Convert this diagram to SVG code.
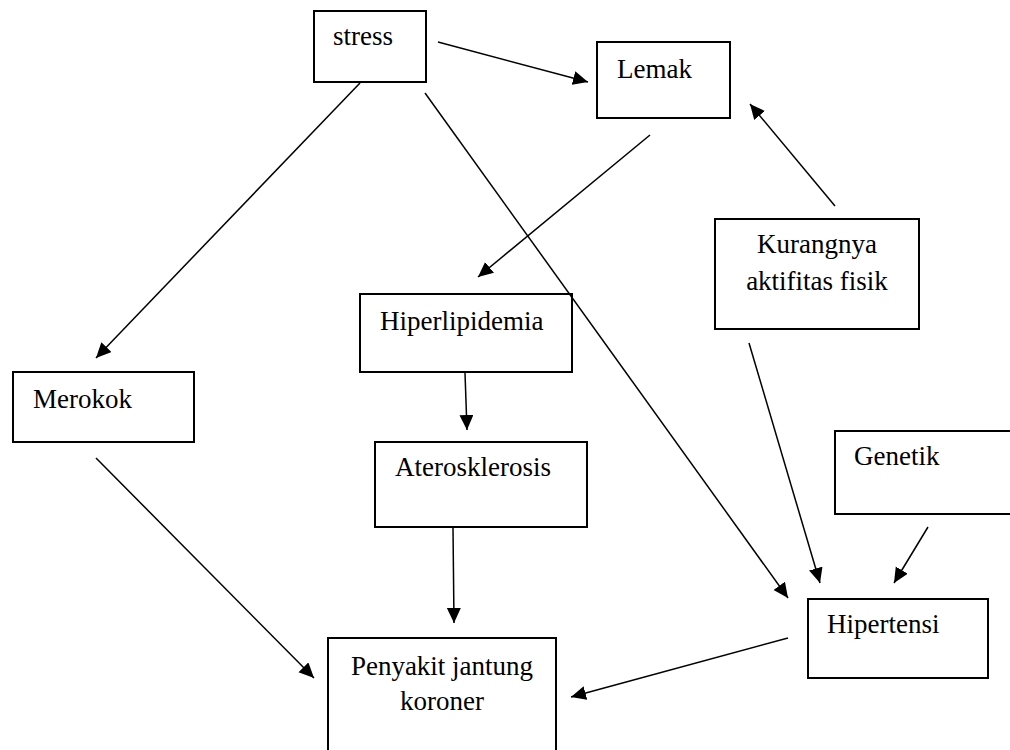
<svg xmlns="http://www.w3.org/2000/svg" width="1010" height="750" viewBox="0 0 1010 750">
<style>
.box{fill:#fff;stroke:#000;stroke-width:2}
.t{font-family:"Liberation Serif","Times New Roman",serif;font-size:27px;fill:#000}
.c{fill:none;stroke:#000;stroke-width:1.5;marker-end:url(#ah)}
</style>
<defs>
<marker id="ah" markerUnits="userSpaceOnUse" markerWidth="16" markerHeight="15" refX="15" refY="7" orient="auto">
<path d="M0,0 L15,7 L0,14 z" fill="#000"/>
</marker>
</defs>
<rect width="1010" height="750" fill="#fff"/>
<g id="n-stress"><rect class="box" x="314" y="11" width="112" height="71"/><text class="t" x="333" y="45">stress</text></g>
<g id="n-lemak"><rect class="box" x="597" y="42" width="133" height="76"/><text class="t" x="617" y="78">Lemak</text></g>
<g id="n-kurang"><rect class="box" x="715" y="219" width="204" height="110"/><text class="t" x="817" y="253" text-anchor="middle">Kurangnya</text><text class="t" x="817" y="290" text-anchor="middle">aktifitas fisik</text></g>
<g id="n-hiperlipidemia"><rect class="box" x="360" y="294" width="212" height="78"/><text class="t" x="380" y="330">Hiperlipidemia</text></g>
<g id="n-merokok"><rect class="box" x="13" y="372" width="181" height="70"/><text class="t" x="33" y="408">Merokok</text></g>
<g id="n-ateros"><rect class="box" x="375" y="442" width="212" height="85"/><text class="t" x="395" y="476">Aterosklerosis</text></g>
<g id="n-genetik"><rect class="box" x="835" y="431" width="185" height="83"/><text class="t" x="854" y="465">Genetik</text></g>
<g id="n-hipertensi"><rect class="box" x="808" y="599" width="180" height="79"/><text class="t" x="827" y="633">Hipertensi</text></g>
<g id="n-pjk"><rect class="box" x="328" y="638" width="228" height="130"/><text class="t" x="442" y="675" text-anchor="middle">Penyakit jantung</text><text class="t" x="442" y="710" text-anchor="middle">koroner</text></g>
<g id="connectors">
<line class="c" x1="438" y1="42" x2="588" y2="82"/>
<line class="c" x1="360" y1="83" x2="96" y2="358"/>
<line class="c" x1="425" y1="93" x2="788" y2="598"/>
<line class="c" x1="650" y1="135" x2="478" y2="277"/>
<line class="c" x1="835" y1="206" x2="750" y2="104"/>
<line class="c" x1="749" y1="343" x2="820" y2="583"/>
<line class="c" x1="928" y1="527" x2="894" y2="583"/>
<line class="c" x1="465" y1="373" x2="467" y2="430"/>
<line class="c" x1="453" y1="528" x2="454" y2="623"/>
<line class="c" x1="96" y1="458" x2="314" y2="678"/>
<line class="c" x1="788" y1="638" x2="571" y2="697"/>
</g>
</svg>
